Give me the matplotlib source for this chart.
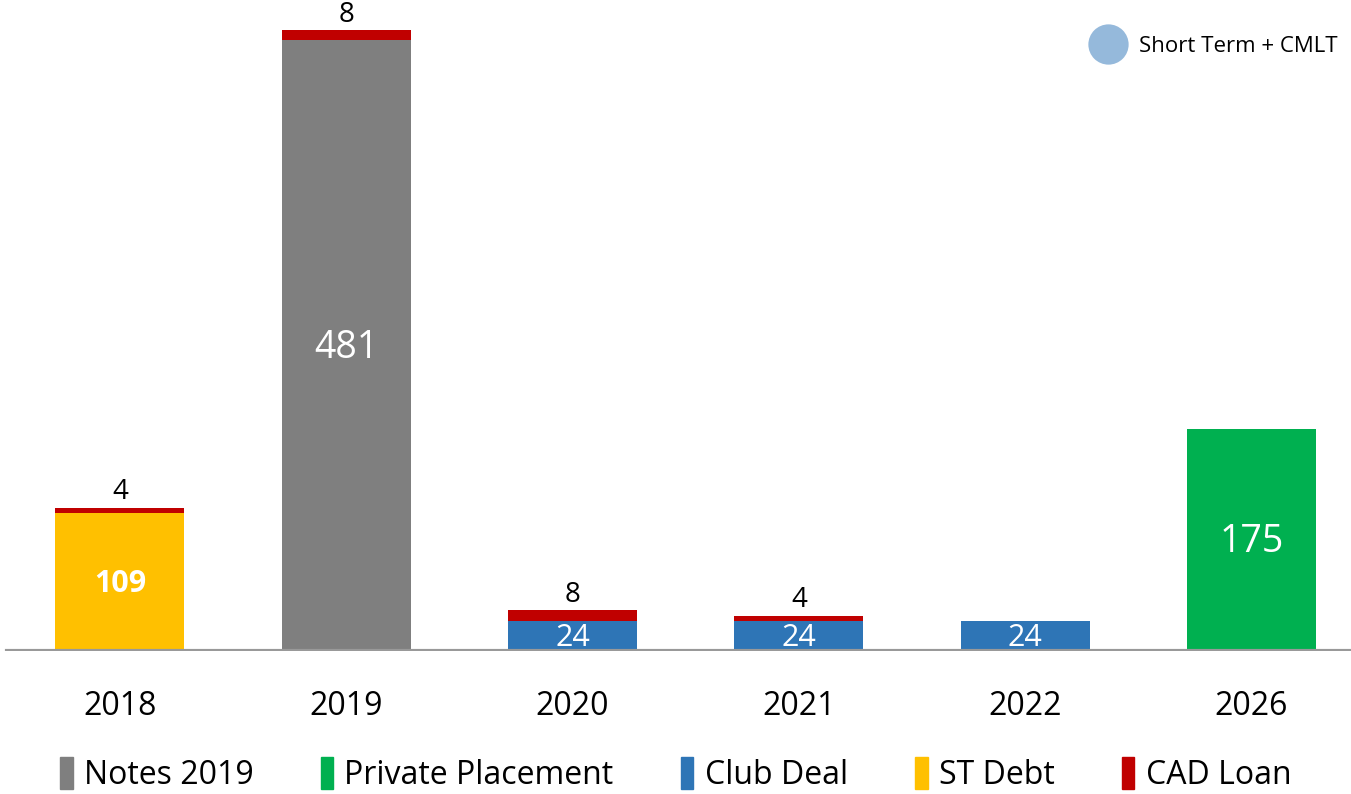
import matplotlib.pyplot as plt
from matplotlib.patches import Patch
from matplotlib.lines import Line2D

plt.rcParams['font.family'] = ['Open Sans', 'DejaVu Sans']

years = ['2018', '2019', '2020', '2021', '2022', '2026']
st_debt = [109, 0, 0, 0, 0, 0]
notes_2019 = [0, 481, 0, 0, 0, 0]
club_deal = [0, 0, 24, 24, 24, 0]
private_placement = [0, 0, 0, 0, 0, 175]
cad_loan = [4, 8, 8, 4, 0, 0]

colors = {
    'Notes 2019': '#7f7f7f',
    'Private Placement': '#00b050',
    'Club Deal': '#2e75b6',
    'ST Debt': '#ffc000',
    'CAD Loan': '#c00000',
}

fig = plt.figure(figsize=(13.51, 7.94), dpi=100)
ax = fig.add_axes([0, 0.18, 1, 0.82])

x = range(len(years))
w = 0.57
base = [0] * len(years)
for name, vals in [('ST Debt', st_debt), ('Notes 2019', notes_2019),
                   ('Club Deal', club_deal), ('Private Placement', private_placement)]:
    ax.bar(x, vals, w, bottom=base, color=colors[name])
    for i, v in enumerate(vals):
        if v > 0:
            bold = name == 'ST Debt'
            fs = 27 if name in ('Notes 2019', 'Private Placement') else 22
            ax.text(i, base[i] + v / 2 - 2, str(v), ha='center', va='center',
                    color='white', fontsize=fs,
                    fontweight='bold' if bold else 'normal')
    base = [b + v for b, v in zip(base, vals)]

ax.bar(x, cad_loan, w, bottom=base, color=colors['CAD Loan'])
for i, v in enumerate(cad_loan):
    if v > 0:
        ax.text(i, base[i] + v + 1, str(v), ha='center', va='bottom',
                color='black', fontsize=20)

ax.set_xlim(-0.53, 5.44)
ax.set_ylim(0, 512.6)
ax.axhline(0, xmin=0.005, color='#999999', lw=3)
for s in ax.spines.values():
    s.set_visible(False)
ax.set_yticks([])
ax.set_xticks([])

for i, y in enumerate(years):
    ax.text(i, -44, y, ha='center', va='center', fontsize=23, color='black')

handles = [Patch(color=c, label=n) for n, c in colors.items()]
fig.legend(handles=handles, loc='center', bbox_to_anchor=(0.5, 0.025), ncol=5,
           frameon=False, fontsize=23, handlelength=0.4, handleheight=1.2,
           handletextpad=0.35, columnspacing=2.1)

circ = Line2D([], [], marker='o', color='none', markerfacecolor='#95b9db',
              markeredgecolor='none', markersize=29, label='Short Term + CMLT')
ax.legend(handles=[circ], loc='upper right', bbox_to_anchor=(1.0, 0.965),
          frameon=False, fontsize=16, handletextpad=0.7, handlelength=1.4,
          borderaxespad=0.2)

fig.savefig('out.png', dpi=100)
